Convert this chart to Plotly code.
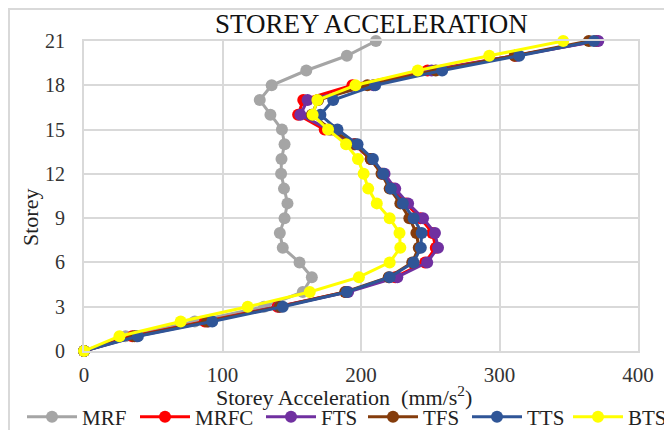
import plotly.graph_objects as go

storey = list(range(0, 22))

MRF = [0, 30, 80, 130, 158, 164.5, 155.6, 143.5, 141.4, 144.8, 146.9, 144.4, 142.3, 142.6, 144.8, 142.9, 134.6, 126.9, 135.5, 160.5, 189.8, 210.8]
MRFC = [0, 34.9, 87.3, 139.8, 189, 224.7, 246.3, 254, 251.5, 243, 232.4, 223, 215.4, 207, 195, 173.8, 154.6, 158.3, 193.8, 248, 311, 370]
FTS = [0, 38, 90, 141, 190.7, 226.2, 247.8, 255.6, 253.4, 244.8, 234, 224.7, 217, 207.7, 195, 176.9, 156.2, 161.4, 209, 251, 312.7, 371.3]
TFS = [0, 36.4, 88.9, 141.4, 188.6, 220, 237, 241.7, 240, 234.9, 228.4, 220.7, 214.8, 207, 196, 178.4, 164.5, 169, 204.6, 254, 311, 364.5]
TTS = [0, 38.9, 92.6, 143.5, 189.8, 220.7, 238, 243.2, 243.8, 238, 230.2, 221.6, 216, 208.6, 197.5, 183, 170.7, 179.9, 210.2, 258.6, 314.2, 368.2]
BTS = [0, 25.6, 69.8, 118.2, 163, 198.5, 220.7, 228.4, 227.8, 220.7, 211.4, 205.2, 201.9, 197.8, 189.2, 176.2, 165.1, 168.5, 196, 241, 292.6, 346]

series = [
    ("MRF", MRF, "#a5a5a5"),
    ("MRFC", MRFC, "#ff0000"),
    ("FTS", FTS, "#7030a0"),
    ("TFS", TFS, "#843c0c"),
    ("TTS", TTS, "#2f5597"),
    ("BTS", BTS, "#ffff00"),
]
# page x where each legend label text starts
legend_text_x = [80, 193, 319, 421, 525, 626]

FONT = "Liberation Serif"
OFF = 8  # page body margin
W, H = 672 - OFF, 430 - OFF
L, R, T, B = 76, 34, 33, 79
PW, PH = W - L - R, H - T - B

def px_x(page_x):
    return (page_x - OFF - L) / PW

def px_y(page_y):
    return (H - B - (page_y - OFF)) / PH

fig = go.Figure()
legend_layouts = {}
for i, (name, vals, col) in enumerate(series):
    lg = "legend" if i == 0 else f"legend{i + 1}"
    fig.add_trace(go.Scatter(
        x=vals, y=storey, name=name, mode="lines+markers",
        line=dict(color=col, width=3),
        marker=dict(color=col, size=12),
        cliponaxis=False, legend=lg,
    ))
    legend_layouts[lg] = dict(
        orientation="h", x=px_x(legend_text_x[i] - 58), xanchor="left",
        y=px_y(417), yanchor="middle", itemwidth=50,
        font=dict(family=FONT, size=21, color="#222"),
        bgcolor="rgba(0,0,0,0)",
    )

fig.update_layout(
    width=W, height=H,
    margin=dict(l=L, r=R, t=T, b=B, autoexpand=False),
    paper_bgcolor="white", plot_bgcolor="white",
    font=dict(family=FONT, size=19, color="#222"),
    xaxis=dict(range=[0, 400], dtick=100, showgrid=True, gridcolor="#d9d9d9", gridwidth=2,
               showline=True, linecolor="#d9d9d9", linewidth=2, mirror=True, zeroline=False,
               ticks="outside", ticklen=4, tickcolor="rgba(0,0,0,0)", automargin=False,
               tickfont=dict(family=FONT, size=21, color="#333")),
    yaxis=dict(range=[0, 21], dtick=3, showgrid=True, gridcolor="#d9d9d9", gridwidth=2,
               showline=True, linecolor="#d9d9d9", linewidth=2, mirror=True, zeroline=False,
               ticks="outside", ticklen=13, tickcolor="rgba(0,0,0,0)", automargin=False,
               tickfont=dict(family=FONT, size=20, color="#333")),
    showlegend=True,
    annotations=[
        dict(text="STOREY ACCELERATION", xref="paper", yref="paper",
             x=px_x(371), y=px_y(24), xanchor="center", yanchor="middle",
             showarrow=False, font=dict(family=FONT, size=27, color="#111")),
        dict(text="Storey Acceleration  (mm/s<sup>2</sup>)", xref="paper", yref="paper",
             x=px_x(344), y=px_y(396), xanchor="center", yanchor="middle",
             showarrow=False, font=dict(family=FONT, size=22, color="#222")),
        dict(text="Storey", xref="paper", yref="paper", textangle=-90,
             x=px_x(30), y=px_y(218), xanchor="center", yanchor="middle",
             showarrow=False, font=dict(family=FONT, size=22, color="#222")),
    ],
    **legend_layouts,
)

fig.add_shape(type="rect", xref="paper", yref="paper",
              x0=px_x(9), x1=px_x(700), y0=px_y(470), y1=px_y(9),
              line=dict(color="#d9d9d9", width=2), layer="below")

fig.write_html("out.html")
